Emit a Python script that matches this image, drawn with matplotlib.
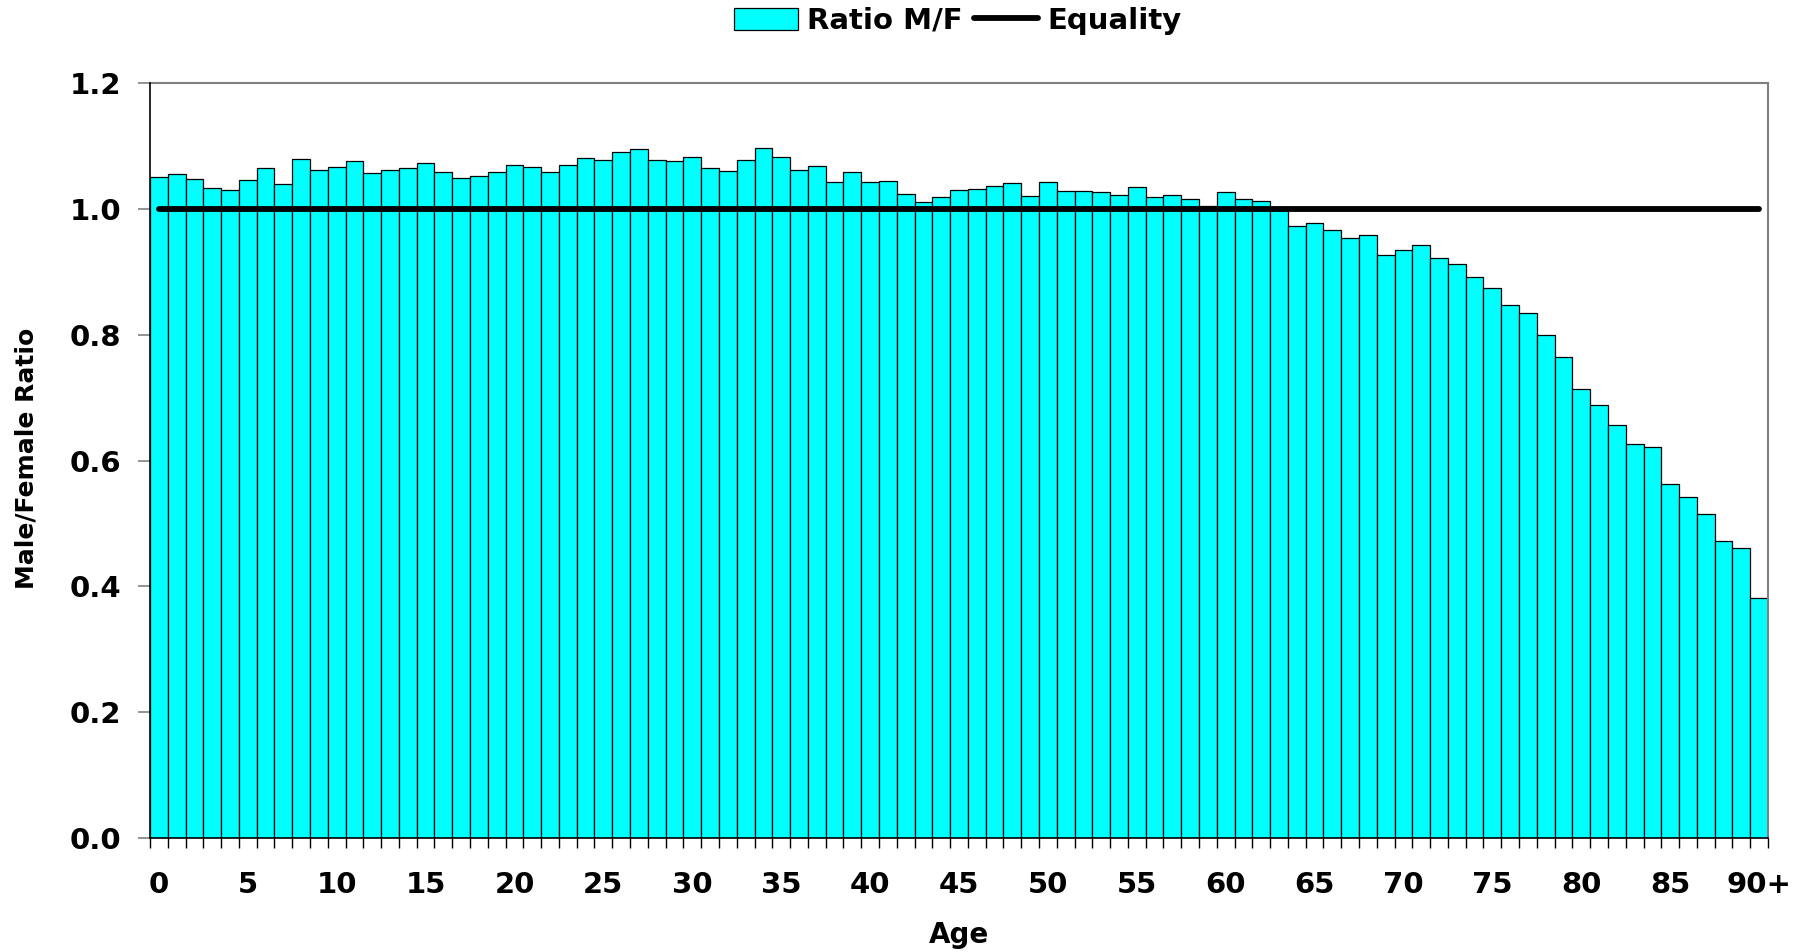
import matplotlib.pyplot as plt
import numpy as np

# male/female ratio per single year of age, 0 .. 90+
ratio = [1.050, 1.055, 1.047, 1.033, 1.030, 1.046, 1.065, 1.039, 1.079, 1.061,
         1.066, 1.076, 1.057, 1.061, 1.065, 1.073, 1.059, 1.049, 1.052, 1.058,
         1.069, 1.066, 1.059, 1.069, 1.081, 1.077, 1.090, 1.095, 1.077, 1.076,
         1.082, 1.065, 1.060, 1.077, 1.096, 1.082, 1.061, 1.068, 1.042, 1.058,
         1.042, 1.044, 1.023, 1.011, 1.019, 1.030, 1.032, 1.036, 1.041, 1.020,
         1.042, 1.029, 1.029, 1.026, 1.022, 1.034, 1.019, 1.022, 1.015, 1.004,
         1.026, 1.015, 1.012, 0.999, 0.972, 0.977, 0.966, 0.953, 0.958, 0.926,
         0.934, 0.942, 0.922, 0.912, 0.891, 0.874, 0.847, 0.835, 0.799, 0.764,
         0.714, 0.689, 0.656, 0.627, 0.621, 0.562, 0.542, 0.515, 0.472, 0.461,
         0.381]
ages = np.arange(len(ratio))
age_labels = [str(a) for a in range(0, 90, 5)] + ['90+']
equality = 1.0

plt.rcParams['font.family'] = 'DejaVu Sans'
plt.rcParams['font.weight'] = 'bold'

fig = plt.figure(figsize=(18.07, 9.52), dpi=100)
ax = fig.add_axes([0.0830, 0.1197, 0.8954, 0.7931])

bars = ax.bar(ages, ratio, width=1.0, color='#00FFFF', edgecolor='black', linewidth=0.9, label='Ratio M/F')
line, = ax.plot([ages[0], ages[-1]], [equality, equality], color='black', lw=4.2,
                solid_capstyle='round', label='Equality')

ax.set_xlim(-0.5, len(ratio) - 0.5)
ax.set_ylim(0, 1.2)
ax.set_yticks(np.arange(0, 1.21, 0.2))
ax.set_yticklabels([f'{v:.1f}' for v in np.arange(0, 1.21, 0.2)], fontsize=21, fontweight='bold')

# ticks on bar edges, labels at every 5th bar centre
ax.set_xticks(np.arange(-0.5, len(ratio), 1.0))
ax.set_xticklabels([])
ax.set_xticks(np.arange(0, 91, 5), minor=True)
ax.set_xticklabels(age_labels, minor=True, fontsize=21, fontweight='bold')
ax.tick_params(axis='x', which='major', direction='out', length=7, width=1, color='black')
ax.tick_params(axis='x', which='minor', length=0, pad=24)
ax.tick_params(axis='y', direction='out', length=8.5, width=1.2, color='#808080', pad=12)

for s in ['left', 'bottom']:
    ax.spines[s].set_color('black')
    ax.spines[s].set_linewidth(1.2)
    ax.spines[s].set_zorder(3)
for s in ['top', 'right']:
    ax.spines[s].set_color('#808080')
    ax.spines[s].set_linewidth(1.5)

fig.text(0.0147, 0.518, 'Male/Female Ratio', rotation=90, ha='center', va='center', fontsize=18, fontweight='bold')
fig.text(0.5307, 0.0179, 'Age', ha='center', va='center', fontsize=20, fontweight='bold')

fig.legend(handles=[bars, line], loc='center', bbox_to_anchor=(0.53, 0.978), ncol=2, frameon=False,
           handlelength=2.2, handleheight=0.8, columnspacing=0.4, handletextpad=0.3,
           prop={'weight': 'bold', 'size': 21})

plt.savefig('out.png', dpi=100)
